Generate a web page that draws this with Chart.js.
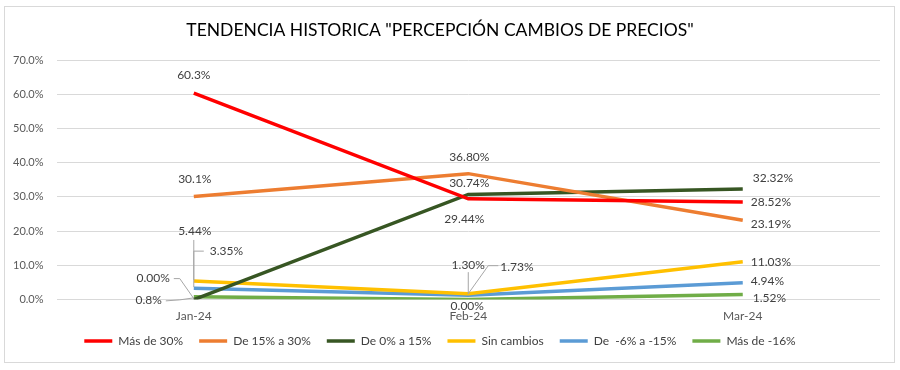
<!DOCTYPE html>
<html>
<head>
<meta charset="utf-8">
<script src="https://cdn.jsdelivr.net/npm/chart.js@4.4.1/dist/chart.umd.min.js"></script>
<style>
  html, body { margin: 0; padding: 0; background: #ffffff; }
  #wrap { position: relative; width: 900px; height: 370px; }
  #frame { position: absolute; left: 4px; top: 6px; width: 891px; height: 357px; border: 1px solid #d9d9d9; box-sizing: border-box; pointer-events: none; }
  canvas { position: absolute; left: 0; top: 0; }
</style>
</head>
<body>
<div id="wrap">
  <canvas id="c" width="900" height="370"></canvas>
  <div id="frame"></div>
</div>
<script>
// ---- data ----
const categories = ["Jan-24", "Feb-24", "Mar-24"];
const seriesNames = ["Más de 30%", "De 15% a 30%", "De 0% a 15%", "Sin cambios", "De  -6% a -15%", "Más de -16%"];
const masDe30 = [60.3, 29.44, 28.52];
const de15a30 = [30.1, 36.80, 23.19];
const de0a15 = [0.00, 30.74, 32.32];
const sinCambios = [5.44, 1.73, 11.03];
const deMenos6a15 = [3.35, 1.30, 4.94];
const masDeMenos16 = [0.8, 0.00, 1.52];
const valueLabels = [
  ["60.3%", "29.44%", "28.52%"],
  ["30.1%", "36.80%", "23.19%"],
  ["0.00%", "30.74%", "32.32%"],
  ["5.44%", "1.73%", "11.03%"],
  ["3.35%", "1.30%", "4.94%"],
  ["0.8%", "0.00%", "1.52%"]
];
const yTickValues = [0, 10, 20, 30, 40, 50, 60, 70];

// ---- styles ----
const colors = ["#FF0000", "#ED7D31", "#375623", "#FFC000", "#5B9BD5", "#70AD47"];
const FONT = "Lato, 'Liberation Sans', sans-serif";
const LEGEND_SHIFT = -13;

// label placement relative to each point: [dx, dy, align, leaderPath]
const labelLayout = [
  [[0, -18, "center"], [-4, 20, "center"], [8, 0, "left"]],
  [[1, -17, "center"], [1, -17, "center"], [8, 4, "left"]],
  [[-24, -21, "right", [[-20, -21], [-14, -21], [0, -1]]], [1, -11, "center"], [10, -11, "left"]],
  [[1, -50, "center", [[0, -41], [0, -1]]], [32, -27, "left", [[0, 0], [20, -28], [30, -28]]], [8, 0, "left"]],
  [[16, -37, "left", [[0, -1], [0, -37], [10, -37]]], [0, -30, "center", [[0, -23], [0, -1]]], [8, -2, "left"]],
  [[-32, 3, "right", [[-28, 4], [-14, 3], [0, 1]]], [-1, 7, "center"], [10, 4, "left"]]
];

const allSeries = [masDe30, de15a30, de0a15, sinCambios, deMenos6a15, masDeMenos16];

const labelPlugin = {
  id: "valueLabels",
  afterLayout(chart) {
    if (chart.legend) {
      chart.legend.top += LEGEND_SHIFT;
      chart.legend.bottom += LEGEND_SHIFT;
    }
  },
  afterDatasetsDraw(chart) {
    const ctx = chart.ctx;
    ctx.save();
    chart.data.datasets.forEach((ds, i) => {
      const meta = chart.getDatasetMeta(i);
      meta.data.forEach((pt, j) => {
        const lay = labelLayout[i][j];
        const px = pt.x, py = pt.y;
        if (lay[3]) {
          ctx.strokeStyle = "#a6a6a6";
          ctx.lineWidth = 1;
          ctx.beginPath();
          lay[3].forEach((p, k) => {
            if (k === 0) ctx.moveTo(px + p[0], py + p[1]);
            else ctx.lineTo(px + p[0], py + p[1]);
          });
          ctx.stroke();
        }
        ctx.fillStyle = "#404040";
        ctx.font = "12px " + FONT;
        ctx.textAlign = lay[2];
        ctx.textBaseline = "middle";
        ctx.fillText(valueLabels[i][j], px + lay[0], py + lay[1]);
      });
    });
    ctx.restore();
  }
};

new Chart(document.getElementById("c"), {
  type: "line",
  data: {
    labels: categories,
    datasets: allSeries.map((vals, i) => ({
      label: seriesNames[i],
      data: vals,
      borderColor: colors[i],
      backgroundColor: colors[i],
      borderWidth: 3.5,
      pointRadius: 0,
      pointHoverRadius: 0,
      tension: 0,
      pointStyle: "line"
    }))
  },
  options: {
    responsive: false,
    animation: false,
    layout: { padding: { left: 0, right: 20, top: 8, bottom: 0 } },
    plugins: {
      title: {
        display: true,
        text: 'TENDENCIA HISTORICA "PERCEPCIÓN CAMBIOS DE PRECIOS"',
        color: "#000000",
        font: { family: FONT, size: 17.5, weight: "normal" },
        padding: { top: 12, bottom: 19 }
      },
      legend: {
        position: "bottom",
        labels: {
          usePointStyle: true,
          pointStyle: "line",
          pointStyleWidth: 28,
          color: "#404040",
          font: { family: FONT, size: 12 },
          padding: 16
        }
      },
      tooltip: { enabled: false }
    },
    scales: {
      x: {
        offset: true,
        grid: { display: false, drawTicks: false },
        border: { display: false },
        ticks: { color: "#595959", font: { family: FONT, size: 12 }, padding: 9 }
      },
      y: {
        min: 0,
        max: 70,
        afterBuildTicks(axis) { axis.ticks = yTickValues.map(v => ({ value: v })); },
        grid: { color: "#d9d9d9", drawTicks: false },
        border: { display: false },
        ticks: {
          color: "#595959",
          font: { family: FONT, size: 11 },
          padding: 13,
          callback: v => v.toFixed(1) + "%"
        }
      }
    }
  },
  plugins: [labelPlugin]
});
</script>
</body>
</html>
